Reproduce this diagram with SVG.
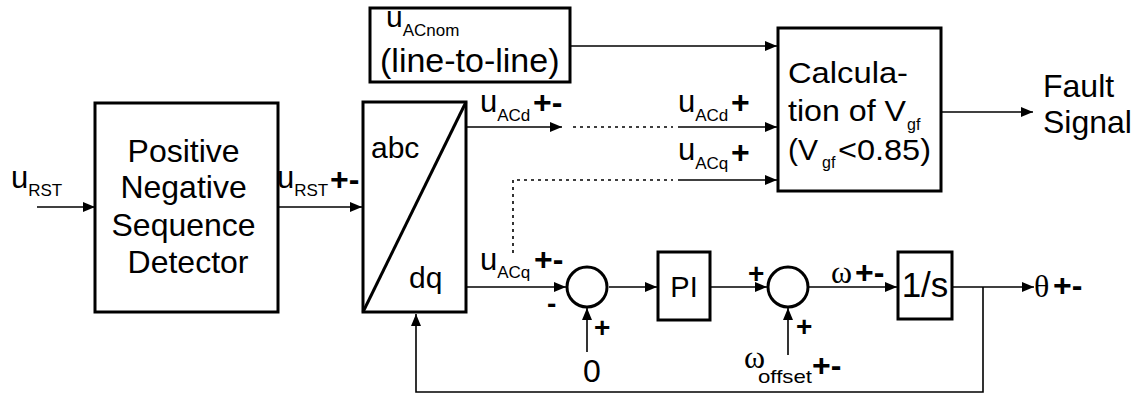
<svg xmlns="http://www.w3.org/2000/svg" width="1141" height="394" viewBox="0 0 1141 394">
<defs>
<style>
.box{fill:#fff;stroke:#000;stroke-width:3}
.ln{fill:none;stroke:#000;stroke-width:1.6}
.dot{fill:none;stroke:#000;stroke-width:1.6;stroke-dasharray:3 4}
.t{font-family:"Liberation Sans",Arial,sans-serif;fill:#000}
.g{font-family:"Liberation Serif","Times New Roman",serif;fill:#000}
.pm{font-family:"Liberation Sans",Arial,sans-serif;font-weight:bold;fill:#000}
</style>
<marker id="arr" viewBox="0 0 12 10" refX="12" refY="5" markerWidth="12" markerHeight="10" markerUnits="userSpaceOnUse" orient="auto">
<path d="M0,0 L12,5 L0,10 Z" fill="#000"/>
</marker>
</defs>
<rect width="1141" height="394" fill="#fff"/>

<g id="connectors">
<line class="ln" x1="37" y1="207" x2="95" y2="207" marker-end="url(#arr)"/>
<line class="ln" x1="279" y1="207" x2="362" y2="207" marker-end="url(#arr)"/>
<line class="ln" x1="571" y1="46" x2="777" y2="46" marker-end="url(#arr)"/>
<line class="ln" x1="467" y1="127" x2="562" y2="127" marker-end="url(#arr)"/>
<line class="dot" x1="573" y1="127" x2="673" y2="127"/>
<line class="ln" x1="678" y1="127" x2="777" y2="127" marker-end="url(#arr)"/>
<polyline class="dot" points="513,253 513,180 673,180"/>
<line class="ln" x1="678" y1="180" x2="777" y2="180" marker-end="url(#arr)"/>
<line class="ln" x1="467" y1="287" x2="566" y2="287" marker-end="url(#arr)"/>
<line class="ln" x1="587" y1="352" x2="587" y2="308" marker-end="url(#arr)"/>
<line class="ln" x1="609" y1="287" x2="657" y2="287" marker-end="url(#arr)"/>
<line class="ln" x1="711" y1="287" x2="767" y2="287" marker-end="url(#arr)"/>
<line class="ln" x1="788" y1="355" x2="788" y2="308" marker-end="url(#arr)"/>
<line class="ln" x1="809" y1="287" x2="897" y2="287" marker-end="url(#arr)"/>
<line class="ln" x1="953" y1="287" x2="1034" y2="287" marker-end="url(#arr)"/>
<polyline class="ln" points="983,287 983,392 416,392 416,314" marker-end="url(#arr)"/>
<line class="ln" x1="942" y1="112" x2="1033" y2="112" marker-end="url(#arr)"/>
</g>

<g id="label-urst-in">
<text class="t" x="11" y="188" font-size="31">u<tspan font-size="17" dy="8">RST</tspan></text>
</g>

<g id="pnsd">
<rect class="box" x="95" y="103" width="183" height="209"/>
<text class="t" font-size="32" text-anchor="middle">
<tspan x="188" y="162">Positive</tspan>
<tspan x="188" y="198">Negative</tspan>
<tspan x="188" y="236">Sequence</tspan>
<tspan x="188" y="273">Detector</tspan>
</text>
</g>

<g id="label-urst-out">
<text class="t" x="277" y="188" font-size="31">u<tspan font-size="17" dy="8">RST</tspan></text>
<text class="pm" x="330" y="190" font-size="32">+-</text>
</g>

<g id="abc-dq">
<rect class="box" x="363" y="102" width="103" height="210"/>
<line x1="466" y1="102" x2="363" y2="312" stroke="#000" stroke-width="3"/>
<text class="t" x="371" y="158" font-size="30">abc</text>
<text class="t" x="409" y="288" font-size="30">dq</text>
</g>

<g id="uacnom">
<rect class="box" x="370" y="8" width="200" height="74"/>
<text class="t" x="386" y="27" font-size="30">u<tspan font-size="17" dy="9">ACnom</tspan></text>
<text class="t" x="380" y="72" font-size="34">(line-to-line)</text>
</g>

<g id="label-uacd">
<text class="t" x="480" y="112" font-size="31">u<tspan font-size="17" dy="9">ACd</tspan></text>
<text class="pm" x="533" y="113" font-size="32">+-</text>
<text class="t" x="678" y="112" font-size="31">u<tspan font-size="17" dy="9">ACd</tspan></text>
<text class="pm" x="731" y="113" font-size="32">+</text>
</g>

<g id="label-uacq">
<text class="t" x="678" y="160" font-size="31">u<tspan font-size="17" dy="9">ACq</tspan></text>
<text class="pm" x="731" y="163" font-size="32">+</text>
<text class="t" x="480" y="270" font-size="31">u<tspan font-size="17" dy="8">ACq</tspan></text>
<text class="pm" x="534" y="270" font-size="32">+-</text>
</g>

<g id="calc">
<rect class="box" x="778" y="28" width="163" height="163"/>
<text class="t" x="788" y="83" font-size="30" textLength="120" lengthAdjust="spacingAndGlyphs">Calcula-</text>
<text class="t" x="788" y="121" font-size="30" textLength="118" lengthAdjust="spacingAndGlyphs">tion of V</text>
<text class="t" x="907" y="130" font-size="16">gf</text>
<text class="t" x="788" y="160" font-size="30">(V</text>
<text class="t" x="822" y="168" font-size="16">gf</text>
<text class="t" x="838" y="160" font-size="30" textLength="93" lengthAdjust="spacingAndGlyphs">&lt;0.85)</text>
</g>

<g id="fault">
<text class="t" x="1043" y="97" font-size="32">Fault</text>
<text class="t" x="1043" y="133" font-size="32">Signal</text>
</g>

<g id="sum1">
<circle cx="587" cy="287" r="20" fill="none" stroke="#000" stroke-width="3"/>
<text class="pm" x="547" y="313" font-size="28">-</text>
<text class="pm" x="594" y="337" font-size="28">+</text>
<text class="t" x="592" y="382" font-size="32" text-anchor="middle">0</text>
</g>

<g id="pi">
<rect class="box" x="658" y="252" width="52" height="68"/>
<text class="t" x="684" y="297" font-size="29" text-anchor="middle">PI</text>
</g>

<g id="sum2">
<circle cx="788" cy="287" r="20" fill="none" stroke="#000" stroke-width="3"/>
<text class="pm" x="748" y="283" font-size="28">+</text>
<text class="pm" x="796" y="336" font-size="28">+</text>
<text class="g" x="744" y="368" font-size="32">ω</text>
<text class="t" x="758" y="383" font-size="19" textLength="54" lengthAdjust="spacingAndGlyphs">offset</text>
<text class="pm" x="812" y="376" font-size="32">+-</text>
</g>

<g id="label-omega">
<text class="g" x="831" y="283" font-size="32">ω</text>
<text class="pm" x="855" y="283" font-size="32">+-</text>
</g>

<g id="integrator">
<rect class="box" x="898" y="252" width="54" height="67"/>
<text class="t" x="925" y="297" font-size="35" text-anchor="middle">1/s</text>
</g>

<g id="theta">
<text class="g" x="1034" y="297" font-size="32">θ</text>
<text class="pm" x="1053" y="296" font-size="32">+-</text>
</g>
</svg>
